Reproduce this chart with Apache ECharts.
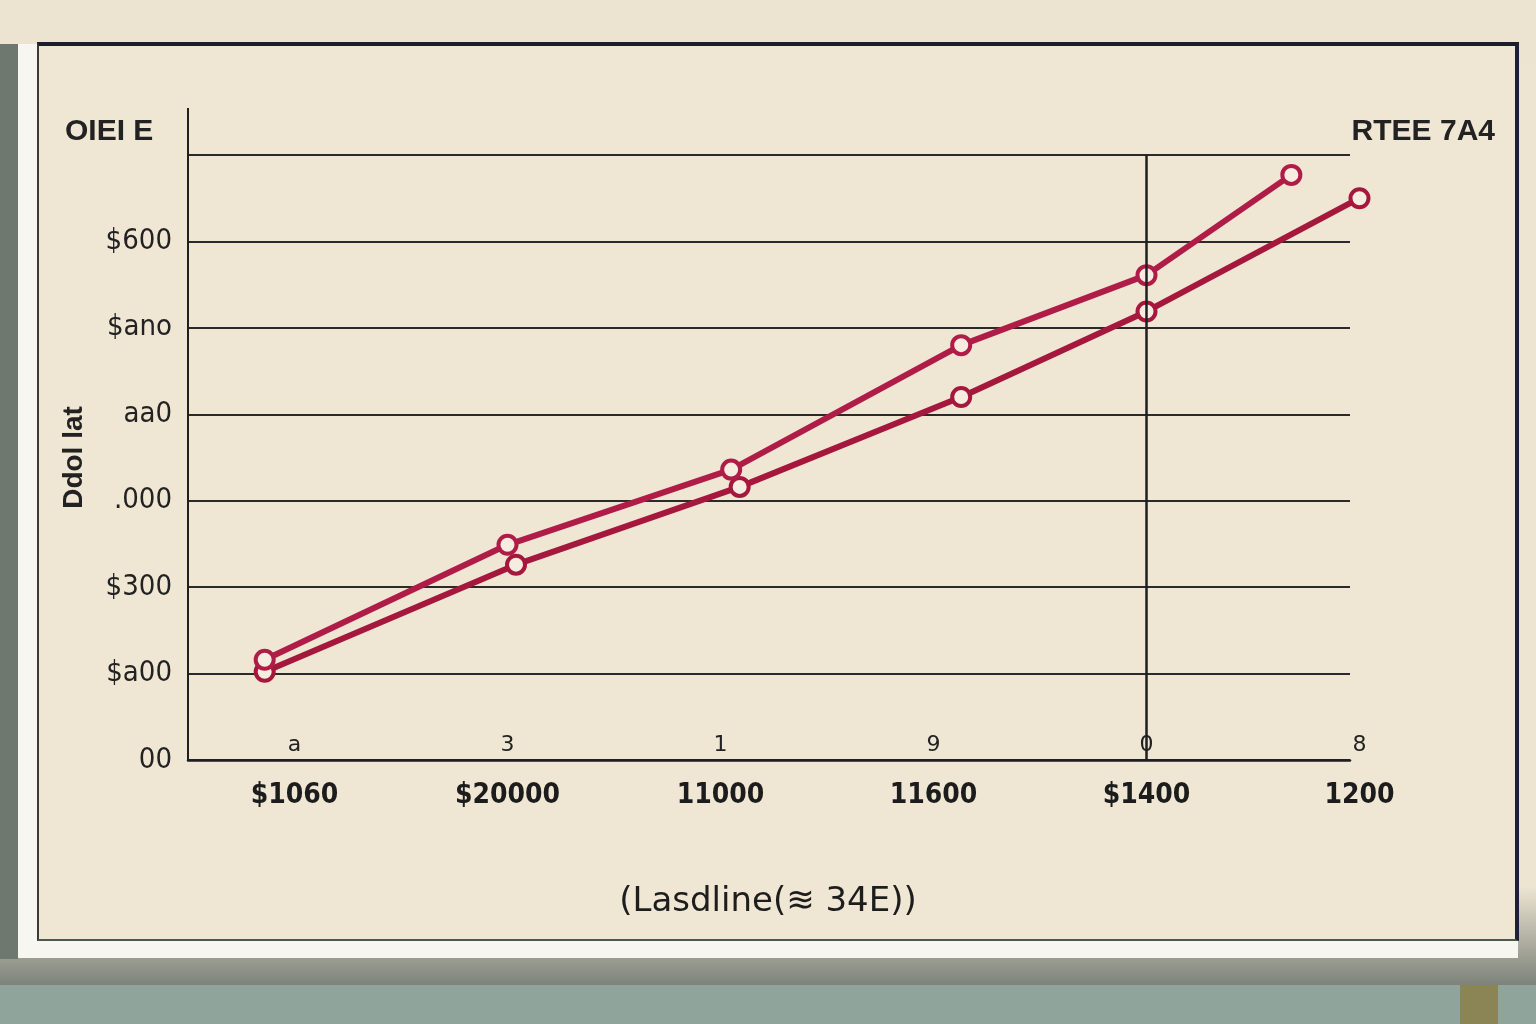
<!DOCTYPE html>
<html>
<head>
<meta charset="utf-8">
<script src="https://cdn.jsdelivr.net/npm/echarts@6/dist/echarts.min.js"></script>
<style>
html,body{margin:0;padding:0;width:1536px;height:1024px;overflow:hidden;}
body{background:#8fa59c;position:relative;font-family:"Liberation Sans",Arial,sans-serif;}
#wall{position:absolute;left:0;top:0;width:1536px;height:985px;background:linear-gradient(#ece4d1,#ede5d2 90%,#7d837a 100%);}
#leftstrip{position:absolute;left:0;top:44px;width:18px;height:915px;background:#6e786f;}
#card{position:absolute;left:18px;top:44px;width:1500px;height:914px;background:#f8f6f0;}
#panel{position:absolute;left:37px;top:42px;width:1476px;height:893px;background:#efe7d4;border-top:4px solid #1b1f2c;border-left:2px solid #3a3a38;border-right:4px solid #1e2035;border-bottom:2px solid #4b5a50;}
#post{position:absolute;left:1460px;top:985px;width:38px;height:39px;background:#8b8455;}
#chart{position:absolute;left:0;top:0;width:1536px;height:1024px;}
</style>
</head>
<body>
<div id="wall"></div>
<div id="leftstrip"></div>
<div id="card"></div>
<div id="panel"></div>
<div id="post"></div>
<div id="chart"></div>
<script>
// ---- data ----
const categories = ['$1060', '$20000', '11000', '11600', '$1400', '1200'];
const tickMarks = ['a', '3', '1', '9', '0', '8'];
const yTickLabels = ['00', '$a00', '$300', '.000', 'aa0', '$ano', '$600', ''];
const upperX = [-0.14, 1.0, 2.05, 3.13, 4.0, 4.68];
const upperY = [116, 249, 336, 480, 561, 677];
const lowerX = [-0.14, 1.04, 2.09, 3.13, 4.0, 5.0];
const lowerY = [102, 226, 316, 420, 519, 650];
const markerX = 4.0;
const titleLeft = 'OIEI E';
const titleRight = 'RTEE 7A4';
const yName = 'Ddol lat';
const xName = '(Lasdline(≋ 34E))';

const pair = (xs, ys) => xs.map((x, i) => [x, ys[i]]);
const crimson = '#a5173d';
const ink = '#1f1f22';

const chart = echarts.init(document.getElementById('chart'));
chart.setOption({
  backgroundColor: 'transparent',
  animation: false,
  title: [
    {text: titleLeft, left: 60, top: 112, textStyle: {fontSize: 30, fontWeight: 'bold', color: '#222', fontFamily: 'Liberation Sans'}},
    {text: titleRight, right: 36, top: 112, textStyle: {fontSize: 30, fontWeight: 'bold', color: '#222', fontFamily: 'Liberation Sans'}},
    {text: xName, left: 'center', top: 880, textStyle: {fontSize: 34, fontWeight: 'normal', color: '#1d1d1d', fontFamily: 'DejaVu Sans'}}
  ],
  grid: [
    {left: 188, top: 155, width: 1162, height: 605},
    {left: 188, top: 155, width: 1278, height: 605}
  ],
  xAxis: [
    {gridIndex: 0, type: 'value', min: 0, max: 1, position: 'bottom', axisLine: {show: true, lineStyle: {color: ink, width: 2.5}},
     axisTick: {show: false}, axisLabel: {show: false}, splitLine: {show: false}},
    {gridIndex: 1, type: 'category', position: 'bottom', data: categories, boundaryGap: true, axisLine: {show: false}, axisTick: {show: false},
     axisLabel: {margin: 22, fontSize: 28, color: '#1c1c1c', fontFamily: 'DejaVu Sans Condensed, DejaVu Sans', fontWeight: 'bold'}},
    {gridIndex: 1, type: 'category', position: 'bottom', offset: 0, data: tickMarks, boundaryGap: true, axisLine: {show: false}, axisTick: {show: false},
     axisLabel: {inside: true, margin: 4, fontSize: 22, color: '#222', fontFamily: 'DejaVu Sans'}},
    {gridIndex: 1, type: 'value', position: 'bottom', min: -0.5, max: 5.5, show: false}
  ],
  yAxis: [
    {gridIndex: 0, type: 'value', min: 0, max: 700, interval: 100,
     name: yName, nameLocation: 'middle', nameGap: 100, nameRotate: 90,
     nameTextStyle: {fontSize: 28, fontWeight: 'bold', color: '#222', fontFamily: 'Liberation Sans'},
     axisLine: {show: true, lineStyle: {color: ink, width: 2}}, axisTick: {show: false},
     axisLabel: {margin: 16, fontSize: 29, color: '#222', fontFamily: 'DejaVu Sans Condensed, DejaVu Sans',
       formatter: (v) => yTickLabels[Math.round(v / 100)]},
     splitLine: {show: true, lineStyle: {color: '#2a2a2a', width: 2}}},
    {gridIndex: 1, type: 'value', min: 0, max: 700, interval: 100, show: false, splitLine: {show: false}}
  ],
  graphic: [
    {type: 'line', shape: {x1: 188, y1: 108, x2: 188, y2: 156}, style: {stroke: ink, lineWidth: 2}}
  ],
  series: [
    {type: 'line', xAxisIndex: 3, yAxisIndex: 1, data: pair(lowerX, lowerY),
     lineStyle: {color: crimson, width: 6}, itemStyle: {color: '#f6ece0', borderColor: crimson, borderWidth: 4},
     symbol: 'circle', symbolSize: 18,
     markLine: {symbol: 'none', silent: true, label: {show: false},
       lineStyle: {color: ink, width: 2.5, type: 'solid'}, data: [{xAxis: markerX}]}},
    {type: 'line', xAxisIndex: 3, yAxisIndex: 1, data: pair(upperX, upperY),
     lineStyle: {color: '#b01c48', width: 6}, itemStyle: {color: '#f6ece0', borderColor: '#b01c48', borderWidth: 4},
     symbol: 'circle', symbolSize: 18}
  ]
});
</script>
</body>
</html>
